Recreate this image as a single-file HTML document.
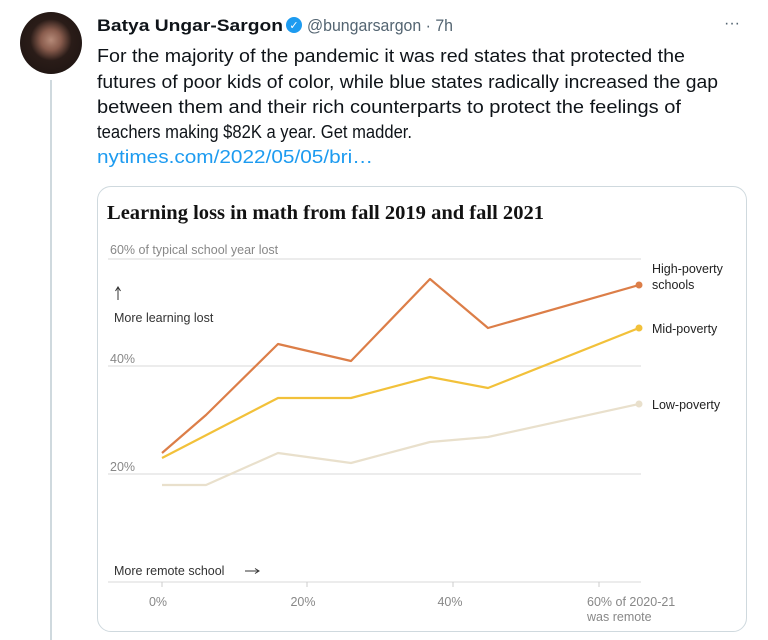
<!DOCTYPE html>
<html><head><meta charset="utf-8"><style>
body{margin:0;width:768px;height:638px;background:#fff;position:relative;overflow:hidden;font-family:"Liberation Sans",sans-serif;color:#0f1419}
.av{position:absolute;left:20px;top:12px;width:62px;height:62px;border-radius:50%;background:radial-gradient(circle at 50% 45%,#b58a78 0,#8a5d4e 22%,#2a1c18 45%,#1a1210 100%)}
.tl{position:absolute;left:50px;top:80px;width:2px;height:560px;background:#cfd9de}
.card{position:absolute;left:97px;top:186px;width:648px;height:444px;border:1px solid #cfd9de;border-radius:14px}
</style></head><body>
<div class="av"></div><div class="tl"></div>
<div class="card"></div>
<svg style="position:absolute;left:0;top:0" width="768" height="638" font-family="Liberation Sans, sans-serif">
<text x="97" y="31" font-size="17" font-weight="bold" fill="#0f1419" textLength="186" lengthAdjust="spacingAndGlyphs">Batya Ungar-Sargon</text>
<circle cx="294" cy="25" r="8" fill="#1d9bf0"/><text x="294" y="29" font-size="11" fill="#fff" text-anchor="middle">✓</text>
<text x="307" y="31" font-size="17" fill="#536471" textLength="146" lengthAdjust="spacingAndGlyphs">@bungarsargon · 7h</text>
<text x="724" y="28" font-size="16" fill="#536471">···</text>
<g font-size="18" fill="#0f1419">
<text x="97" y="62" textLength="588" lengthAdjust="spacingAndGlyphs">For the majority of the pandemic it was red states that protected the</text>
<text x="97" y="88" textLength="621" lengthAdjust="spacingAndGlyphs">futures of poor kids of color, while blue states radically increased the gap</text>
<text x="97" y="113" textLength="584" lengthAdjust="spacingAndGlyphs">between them and their rich counterparts to protect the feelings of</text>
<text x="97" y="138" textLength="315" lengthAdjust="spacingAndGlyphs">teachers making $82K a year. Get madder.</text>
<text x="97" y="163" fill="#1d9bf0" textLength="276" lengthAdjust="spacingAndGlyphs">nytimes.com/2022/05/05/bri…</text>
</g>
<text x="107" y="219" font-family="Liberation Serif, serif" font-weight="bold" font-size="20" fill="#121212" textLength="437" lengthAdjust="spacingAndGlyphs">Learning loss in math from fall 2019 and fall 2021</text>
<text x="110" y="254" font-size="12.5" fill="#888">60% of typical school year lost</text>
<g stroke="#e6e6e6" stroke-width="1.5"><line x1="108" y1="259" x2="641" y2="259"/><line x1="108" y1="366" x2="641" y2="366"/><line x1="108" y1="474" x2="641" y2="474"/><line x1="108" y1="582" x2="641" y2="582"/></g>
<text x="110" y="363" font-size="12.5" fill="#888">40%</text>
<text x="110" y="471" font-size="12.5" fill="#888">20%</text>
<line x1="118" y1="288" x2="118" y2="300" stroke="#333" stroke-width="1"/><path d="M115.5,291 L118,287 L120.5,291" fill="none" stroke="#333"/>
<text x="114" y="322" font-size="12.5" fill="#333">More learning lost</text>
<text x="114" y="575" font-size="12.5" fill="#333">More remote school</text>
<line x1="245" y1="571" x2="258" y2="571" stroke="#333"/><path d="M255,568.5 L259,571 L255,573.5" fill="none" stroke="#333"/>
<g stroke="#ccc"><line x1="162" y1="582" x2="162" y2="587"/><line x1="307" y1="582" x2="307" y2="587"/><line x1="453" y1="582" x2="453" y2="587"/><line x1="599" y1="582" x2="599" y2="587"/></g>
<g font-size="12.5" fill="#888"><text x="158" y="606" text-anchor="middle">0%</text><text x="303" y="606" text-anchor="middle">20%</text><text x="450" y="606" text-anchor="middle">40%</text><text x="587" y="606">60% of 2020-21</text><text x="587" y="621">was remote</text></g>
<g fill="none" stroke-width="2.2" stroke-linejoin="round">
<polyline stroke="#e9e0cc" points="162,485 206,485 278,453 351,463 430,442 488,437 639,404"/>
<polyline stroke="#f2c13a" points="162,458 278,398 351,398 430,377 488,388 639,328"/>
<polyline stroke="#dc7e48" points="162,453 206,415 278,344 351,361 430,279 488,328 639,285"/>
</g>
<circle cx="639" cy="285" r="3.5" fill="#dc7e48"/><circle cx="639" cy="328" r="3.5" fill="#f2c13a"/><circle cx="639" cy="404" r="3.5" fill="#e9e0cc"/>
<g font-size="12.5" fill="#222"><text x="652" y="273">High-poverty</text><text x="652" y="289">schools</text><text x="652" y="333">Mid-poverty</text><text x="652" y="409">Low-poverty</text></g>
</svg>
</body></html>
